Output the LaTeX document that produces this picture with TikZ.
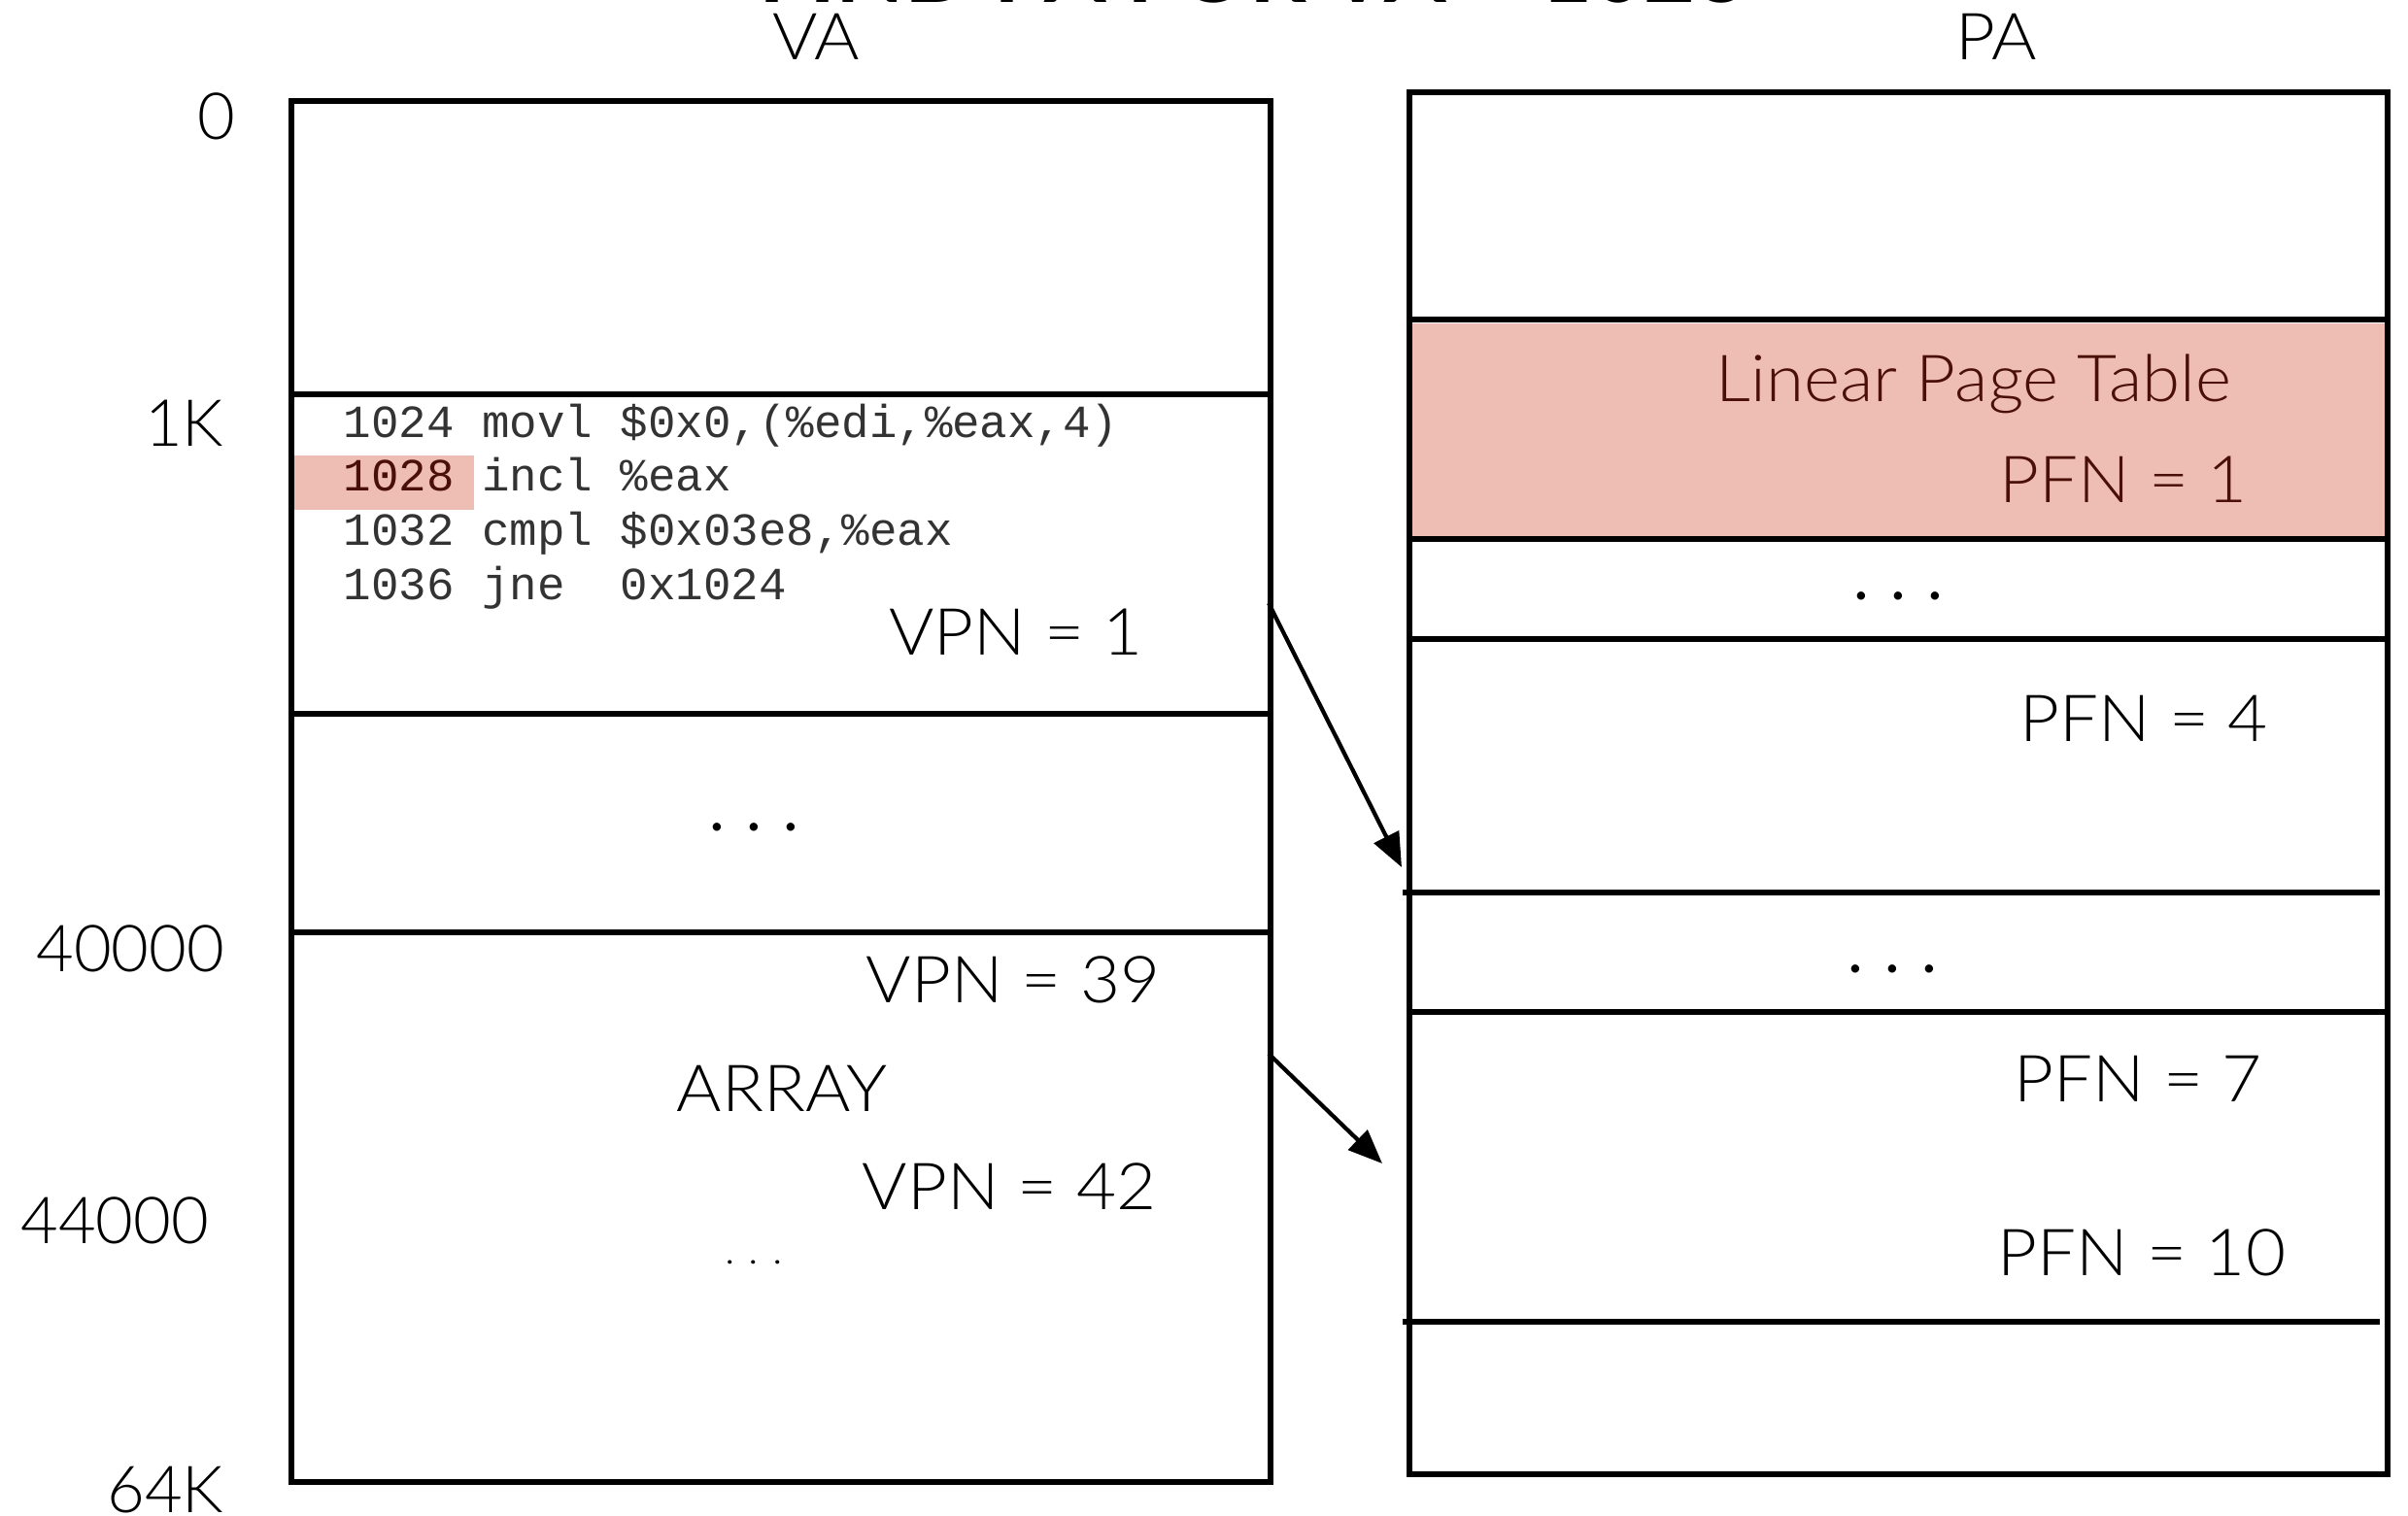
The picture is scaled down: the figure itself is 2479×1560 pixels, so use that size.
\documentclass[tikz,border=0pt]{standalone}
\usepackage{fontspec}
\setmainfont{Lato Light}[FakeStretch=1.06]
\setmonofont{Liberation Mono}
\newfontfamily\heavyfont{Lato}
\newfontfamily\addrfont{Lato Light}
\usetikzlibrary{arrows.meta}
\definecolor{hilite}{HTML}{EEBDB3}
\definecolor{hitext}{HTML}{4A1008}
\begin{document}
\begin{tikzpicture}[x=0.01cm, y=-0.01cm, line width=1.6pt,
	lbl/.style={font=\fontsize{19}{22}\selectfont, inner sep=0pt},
	addr/.style={font=\addrfont\fontsize{19}{22}\selectfont, inner sep=0pt, anchor=east},
	dots/.style={font=\heavyfont\fontsize{19}{22}\selectfont, inner sep=0pt},
	code/.style={font=\ttfamily\fontsize{13.5}{16}\selectfont, anchor=base west, inner sep=0pt, text=black!80},
	map/.style={line width=1.2pt, -{Triangle[length=10pt,width=8pt]}}]
	\useasboundingbox (0,0) rectangle (2479,1560);

	% heading, mostly above the page
	\node[font=\heavyfont\bfseries\fontsize{26}{30}\selectfont, anchor=base, inner sep=0pt] (title) at (1290,2) {FIND PA FOR VA = 1028};
	\node[lbl] (va) at (840,38) {VA};
	\node[lbl] (pa) at (2055,38) {PA};

	% virtual address space
	\fill[hilite] (303,469) rectangle (488,525);
	\draw (300,104) rectangle (1308,1526);
	\foreach \y in {406,735,960}
		\draw (300,\y) -- (1308,\y);
	\node[addr] (a0) at (245,120) {0};
	\node[addr] (a1k) at (233,436) {1K};
	\node[addr] (a40k) at (234,977) {40000};
	\node[addr] (a44k) at (218,1257) {44000};
	\node[addr] (a64k) at (233,1534) {64K};

	\node[code] (ins1) at (351,450) {1024 movl \$0x0,(\%edi,\%eax,4)};
	\node[code] (ins2) at (351,505) {\textcolor{hitext}{1028} incl \%eax};
	\node[code] (ins3) at (351,561) {1032 cmpl \$0x03e8,\%eax};
	\node[code] (ins4) at (351,617) {1036 jne\ \ 0x1024};

	\node[lbl] (vpn1) at (1046,651) {VPN = 1};
	\node[dots] (vdots) at (776,852) {.\,\,.\,\,.};
	\node[lbl] (vpn39) at (1043,1009) {VPN = 39};
	\node[lbl] (arr) at (805,1121) {ARRAY};
	\node[lbl] (vpn42) at (1039,1222) {VPN = 42};
	\node[font=\fontsize{12}{14}\selectfont, inner sep=0pt] (adots) at (776,1300) {.\,\,.\,\,.};

	% physical memory
	\fill[hilite] (1453,333) rectangle (2456,552);
	\draw (1451,95) rectangle (2458,1518);
	\foreach \y in {329,555,658,1042}
		\draw (1451,\y) -- (2458,\y);
	\draw (1444,919) -- (2450,919);
	\draw (1444,1361) -- (2450,1361);

	\node[lbl, text=hitext] (lpt) at (2032,395) {Linear Page Table};
	\node[lbl, text=hitext] (pfn1) at (2186,494) {PFN = 1};
	\node[dots] (pdots1) at (1954,614) {.\,\,.\,\,.};
	\node[lbl] (pfn4) at (2207,740) {PFN = 4};
	\node[dots] (pdots2) at (1948,998) {.\,\,.\,\,.};
	\node[lbl] (pfn7) at (2201,1111) {PFN = 7};
	\node[lbl] (pfn10) at (2205,1290) {PFN = 10};

	% page mappings
	\coordinate (vfrom1) at (1306,621);
	\coordinate (pto1) at (1443,893);
	\coordinate (vfrom2) at (1306,1085);
	\coordinate (pto2) at (1423,1198);
	\draw[map] (vfrom1) -- (pto1);
	\draw[map] (vfrom2) -- (pto2);
\end{tikzpicture}
\end{document}
